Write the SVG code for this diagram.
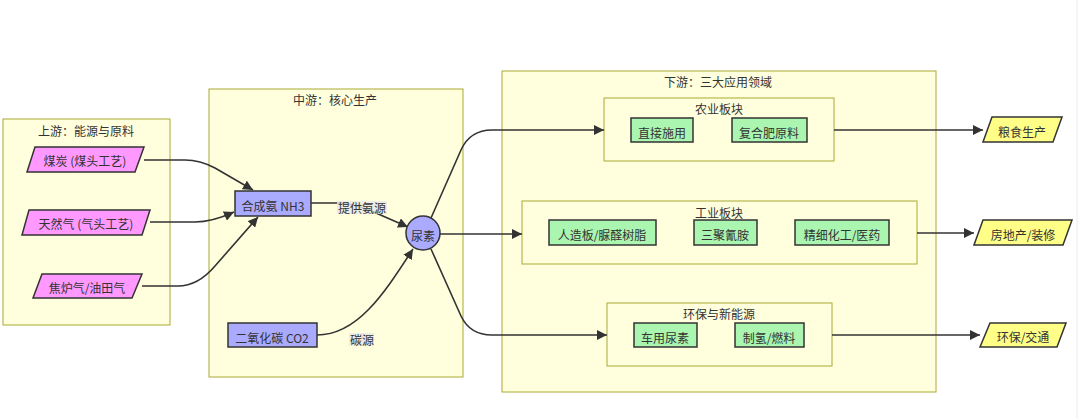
<svg xmlns="http://www.w3.org/2000/svg" width="1080" height="418" viewBox="0 0 1080 418">
<style>
text{font-family:"Noto Sans CJK SC","Noto Sans",sans-serif;font-size:12px;fill:#333;text-anchor:middle;dominant-baseline:central}
.cl{fill:#ffffde;stroke:#aaaa33;stroke-width:1}
.pink{fill:#ff99ff;stroke:#333;stroke-width:1.5}
.purple{fill:#aaaaff;stroke:#333;stroke-width:1.5}
.green{fill:#aaf5b0;stroke:#333;stroke-width:1.5}
.yellow{fill:#ffff88;stroke:#333;stroke-width:1.5}
.edge{fill:none;stroke:#333;stroke-width:1.6}
.lbl{fill:#e8e8e8;opacity:0.8}
</style>
<defs>
<marker id="arr" markerWidth="10" markerHeight="10" refX="10" refY="5" orient="auto" markerUnits="userSpaceOnUse">
<path d="M0,0 L10,5 L0,10 z" fill="#333"/>
</marker>
</defs>
<rect width="1080" height="418" fill="#ffffff"/>
<line x1="1077" y1="0" x2="1077" y2="418" stroke="#ececec" stroke-width="1"/>

<g id="cluster-upstream">
<rect class="cl" x="3" y="119" width="167" height="206"/>
<text x="86" y="130">上游：能源与原料</text>
</g>
<g id="cluster-midstream">
<rect class="cl" x="209" y="89" width="254" height="288"/>
<text x="335" y="99">中游：核心生产</text>
</g>
<g id="cluster-downstream">
<rect class="cl" x="502" y="71" width="434" height="321"/>
<text x="718" y="81">下游：三大应用领域</text>
</g>
<g id="cluster-agri">
<rect class="cl" x="604" y="98" width="230" height="63"/>
<text x="719" y="108">农业板块</text>
</g>
<g id="cluster-industry">
<rect class="cl" x="522" y="201" width="395" height="63"/>
<text x="719" y="212">工业板块</text>
</g>
<g id="cluster-env">
<rect class="cl" x="607" y="303" width="225" height="63"/>
<text x="719" y="313">环保与新能源</text>
</g>

<g id="connectors">
<path class="edge" d="M144,160 L185,160 Q200,160 215,168 L253,190" marker-end="url(#arr)"/>
<path class="edge" d="M150,222 L195,222 Q212,222 234,212" marker-end="url(#arr)"/>
<path class="edge" d="M142,286 L178,286 Q198,286 215,266 L258,217" marker-end="url(#arr)"/>
<path class="edge" d="M311,203 L340,203 Q356,204 376,213 L408,227" marker-end="url(#arr)"/>
<path class="edge" d="M317,335 C358,335 385,292 413,249" marker-end="url(#arr)"/>
<path class="edge" d="M431,218 L461,150 Q470,130 492,130 L604,130" marker-end="url(#arr)"/>
<path class="edge" d="M440,234 L522,234" marker-end="url(#arr)"/>
<path class="edge" d="M431,249 L461,316 Q470,335 492,335 L607,335" marker-end="url(#arr)"/>
<path class="edge" d="M834,130 L983,130" marker-end="url(#arr)"/>
<path class="edge" d="M917,233 L974,233" marker-end="url(#arr)"/>
<path class="edge" d="M832,335 L980,335" marker-end="url(#arr)"/>
<rect class="lbl" x="337" y="201" width="50" height="13"/>
<text x="362" y="207">提供氨源</text>
<rect class="lbl" x="349" y="333" width="25" height="13"/>
<text x="362" y="339">碳源</text>
</g>

<g id="node-coal">
<polygon class="pink" points="35,147 144,147 135,172 27,172"/>
<text x="85" y="160">煤炭 (煤头工艺)</text>
</g>
<g id="node-gas">
<polygon class="pink" points="29,210 150,210 142,235 22,235"/>
<text x="86" y="223">天然气 (气头工艺)</text>
</g>
<g id="node-coke">
<polygon class="pink" points="42,274 142,274 132,298 33,298"/>
<text x="87" y="287">焦炉气/油田气</text>
</g>
<g id="node-nh3">
<rect class="purple" x="235" y="191" width="76" height="25"/>
<text x="273" y="205">合成氨 NH3</text>
</g>
<g id="node-co2">
<rect class="purple" x="228" y="323" width="89" height="24"/>
<text x="272" y="337">二氧化碳 CO2</text>
</g>
<g id="node-urea">
<circle class="purple" cx="423" cy="233" r="17"/>
<text x="423" y="235">尿素</text>
</g>
<g id="node-direct">
<rect class="green" x="631" y="118" width="62" height="24"/>
<text x="662" y="132">直接施用</text>
</g>
<g id="node-compound">
<rect class="green" x="732" y="118" width="75" height="24"/>
<text x="769" y="132">复合肥原料</text>
</g>
<g id="node-board">
<rect class="green" x="549" y="220" width="107" height="25"/>
<text x="602" y="234">人造板/脲醛树脂</text>
</g>
<g id="node-melamine">
<rect class="green" x="694" y="220" width="63" height="25"/>
<text x="725" y="234">三聚氰胺</text>
</g>
<g id="node-fine">
<rect class="green" x="795" y="220" width="94" height="25"/>
<text x="842" y="234">精细化工/医药</text>
</g>
<g id="node-vehicle">
<rect class="green" x="634" y="323" width="63" height="24"/>
<text x="665" y="337">车用尿素</text>
</g>
<g id="node-hydrogen">
<rect class="green" x="735" y="323" width="69" height="24"/>
<text x="769" y="337">制氢/燃料</text>
</g>
<g id="node-grain">
<polygon class="yellow" points="992,117 1062,117 1053,142 983,142"/>
<text x="1022" y="131">粮食生产</text>
</g>
<g id="node-realestate">
<polygon class="yellow" points="983,220 1072,220 1063,245 974,245"/>
<text x="1023" y="234">房地产/装修</text>
</g>
<g id="node-transport">
<polygon class="yellow" points="990,323 1066,323 1057,347 980,347"/>
<text x="1023" y="336">环保/交通</text>
</g>
</svg>
